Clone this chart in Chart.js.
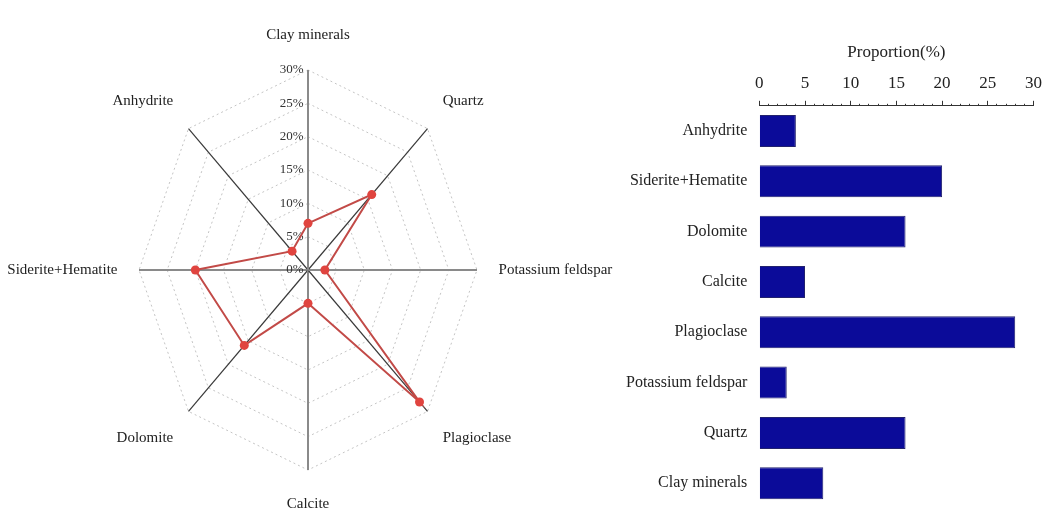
<!DOCTYPE html>
<html>
<head>
<meta charset="utf-8">
<script src="https://cdn.jsdelivr.net/npm/chart.js@4"></script>
<style>
    html, body { margin: 0; padding: 0; background: #fff; overflow: hidden; }
    #radarBox { position: absolute; left: 0; top: 0; width: 620px; height: 514px; }
    #barBox { position: absolute; left: 602px; top: 0; width: 447px; height: 530px; }
</style>
</head>
<body>
<div id="radarBox"><canvas id="radarChart"></canvas></div>
<div id="barBox"><canvas id="barChart"></canvas></div>
<script>
// 矿物组成 (顺时针, 从上方开始)
const minerals = ['Clay minerals', 'Quartz', 'Potassium feldspar', 'Plagioclase', 'Calcite', 'Dolomite', 'Siderite+Hematite', 'Anhydrite'];
const proportions = [7, 16, 3, 28, 5, 16, 20, 4];
const radarTicks = [0, 5, 10, 15, 20, 25, 30];
const barTicks = [0, 5, 10, 15, 20, 25, 30];

const serif = "'Liberation Serif', 'Times New Roman', serif";

// 雷达图横向压扁 (原图是椭圆形)
const X_SQUASH = 0.845;

class EllipseRadialScale extends Chart.RadialLinearScale {
    static id = 'ellipseRadial';
    getPointPosition(index, distance, additionalAngle) {
        const p = super.getPointPosition(index, distance, additionalAngle);
        p.x = this.xCenter + (p.x - this.xCenter) * X_SQUASH;
        return p;
    }
}
Chart.register(EllipseRadialScale);

// 左: 雷达图
new Chart(document.getElementById('radarChart'), {
    type: 'radar',
    data: {
        labels: minerals,
        datasets: [{
            data: proportions,
            fill: false,
            borderColor: '#c24a47',
            borderWidth: 2,
            pointRadius: 4.5,
            pointBackgroundColor: '#e0443f',
            pointBorderWidth: 0
        }]
    },
    options: {
        responsive: true,
        maintainAspectRatio: false,
        animation: false,
        layout: { padding: { top: 26.5, bottom: 0.5, left: 0, right: 0 } },
        plugins: { legend: { display: false }, tooltip: { enabled: false } },
        scales: {
            r: {
                type: 'ellipseRadial',
                min: radarTicks[0],
                max: radarTicks[radarTicks.length - 1],
                afterBuildTicks: scale => {
                    scale.ticks = radarTicks.map(v => ({ value: v }));
                    // 占位, 否则第一个刻度(0%)不显示
                    scale.ticks.unshift({ value: radarTicks[0] });
                },
                ticks: {
                    showLabelBackdrop: false,
                    backdropPadding: 0,
                    color: '#333',
                    font: { family: serif, size: 13 },
                    callback: v => v + '%' + '\u00a0'.repeat(v >= 10 ? 10 : 8)
                },
                grid: { color: '#c4c4c4', lineWidth: 1 },
                border: { dash: [2, 3] },
                angleLines: {
                    color: ctx => ctx.index % 2 === 0 ? '#8a8a8a' : '#3a3a3a',
                    lineWidth: ctx => ctx.index % 2 === 0 ? 2 : 1.2
                },
                pointLabels: {
                    padding: 19,
                    color: '#222',
                    font: { family: serif, size: 15 }
                }
            }
        }
    }
});

// 右: 条形图
new Chart(document.getElementById('barChart'), {
    type: 'bar',
    data: {
        labels: minerals,
        datasets: [{
            data: proportions,
            backgroundColor: '#0b0b99',
            borderColor: '#22226e',
            borderWidth: 1,
            barPercentage: 0.635,
            categoryPercentage: 1
        }]
    },
    options: {
        indexAxis: 'y',
        responsive: true,
        maintainAspectRatio: false,
        animation: false,
        layout: { padding: { top: 42, bottom: 6, left: 12, right: 0 } },
        plugins: { legend: { display: false }, tooltip: { enabled: false } },
        scales: {
            x: {
                position: 'top',
                min: barTicks[0],
                max: barTicks[barTicks.length - 1],
                afterBuildTicks: scale => {
                    const ticks = [];
                    for (let v = barTicks[0]; v <= barTicks[barTicks.length - 1]; v++) {
                        ticks.push({ value: v });
                    }
                    scale.ticks = ticks;
                },
                ticks: {
                    autoSkip: false,
                    maxRotation: 0,
                    padding: 7,
                    color: '#222',
                    font: { family: serif, size: 17 },
                    callback: v => barTicks.includes(v) ? String(v) : ''
                },
                grid: {
                    drawOnChartArea: false,
                    drawTicks: true,
                    tickLength: 5,
                    tickColor: '#333',
                    tickWidth: 1,
                    // 小刻度只画靠近轴线的一段
                    tickBorderDash: ctx => barTicks.includes(ctx.tick && ctx.tick.value) ? [] : [2, 3],
                    tickBorderDashOffset: ctx => barTicks.includes(ctx.tick && ctx.tick.value) ? 0 : 2
                },
                border: { display: true, color: '#333', width: 1 },
                title: {
                    display: true,
                    text: 'Proportion(%)',
                    color: '#222',
                    font: { family: serif, size: 17 },
                    padding: { top: 0, bottom: 4 }
                }
            },
            y: {
                reverse: true,
                grid: { display: false, drawTicks: false },
                border: { display: false },
                ticks: {
                    padding: 12,
                    color: '#222',
                    font: { family: serif, size: 16 }
                }
            }
        }
    }
});
</script>
</body>
</html>
